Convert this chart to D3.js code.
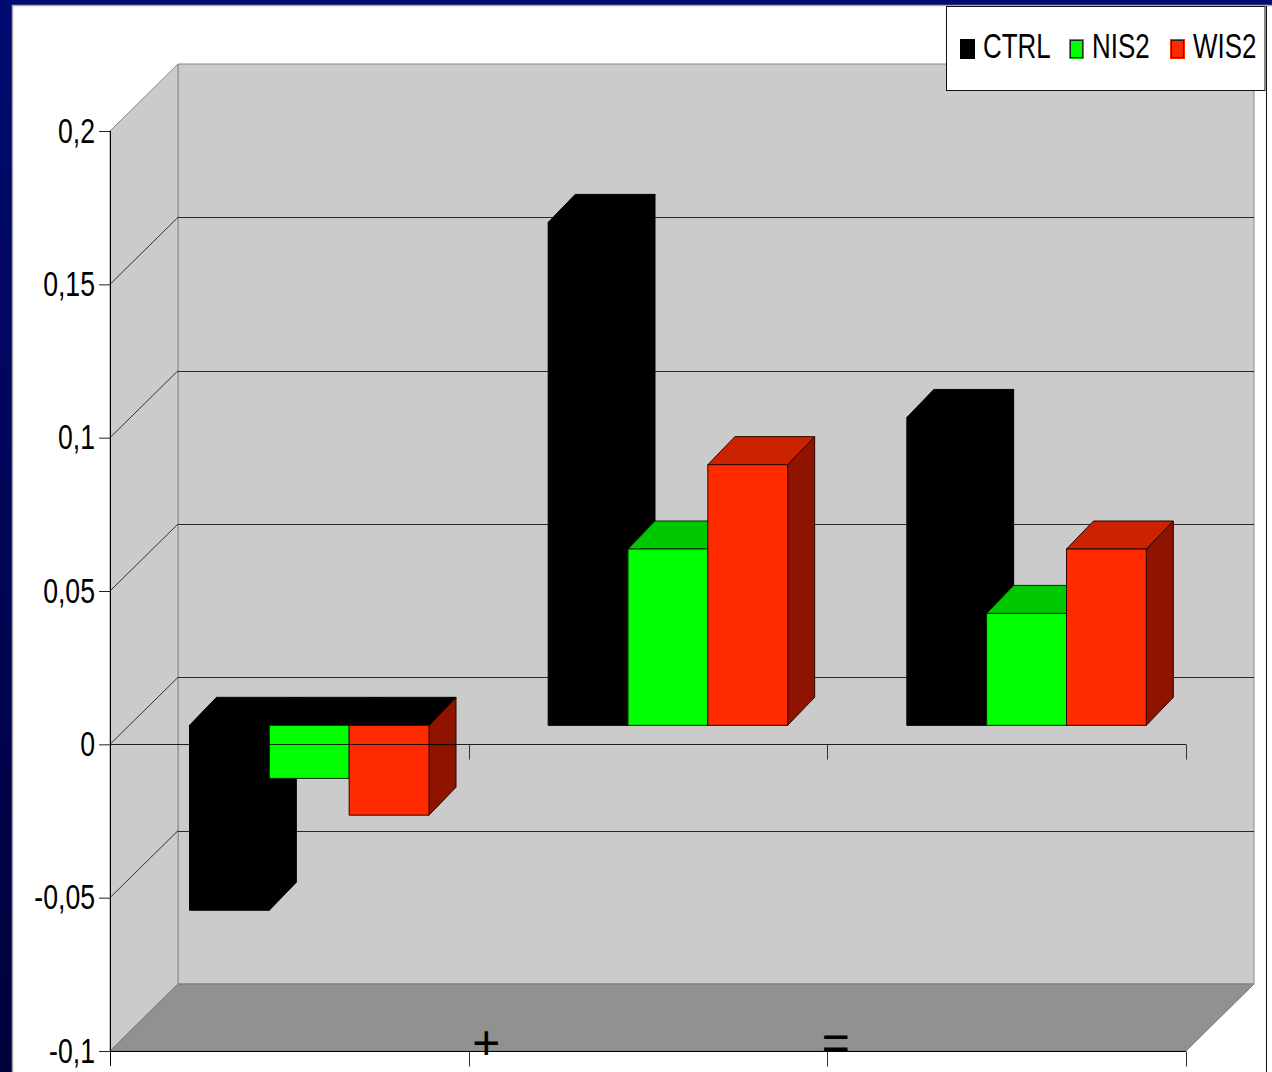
<!DOCTYPE html>
<html>
<head>
<meta charset="utf-8">
<script src="https://cdn.jsdelivr.net/npm/d3@7/dist/d3.min.js"></script>
<style>
html,body{margin:0;padding:0;background:#fff;overflow:hidden}
svg{display:block}
text{font-family:"Liberation Sans",Arial,sans-serif;fill:#000}
</style>
</head>
<body>
<svg id="c" width="1272" height="1072"></svg>
<script>
const categories = ["", "+", "="];
const seriesNames = ["CTRL", "NIS2", "WIS2"];
const ctrlValues = [-0.0603, 0.164, 0.1004];
const nis2Values = [-0.0173, 0.0575, 0.0365];
const wis2Values = [-0.0293, 0.085, 0.0575];
const yTickValues = [-0.1, -0.05, 0, 0.05, 0.1, 0.15, 0.2];
const seriesValues = [ctrlValues, nis2Values, wis2Values];

const palette = {
  CTRL: {front:"#000000", top:"#000000", side:"#000000", stroke:"#000000", swatchOuter:"#000000"},
  NIS2: {front:"#00ff00", top:"#00c800", side:"#00a000", stroke:"#0a2a0a", swatchOuter:"#00d000"},
  WIS2: {front:"#ff2a00", top:"#cc2200", side:"#8f1400", stroke:"#2a0500", swatchOuter:"#ff2a00"}
};

const svg = d3.select("#c");
const defs = svg.append("defs");
const grad = defs.append("linearGradient").attr("id","bg").attr("x1",0).attr("x2",0).attr("y1",0).attr("y2",1);
grad.append("stop").attr("offset",0).attr("stop-color","#000a70");
grad.append("stop").attr("offset",1).attr("stop-color","#00003c");

// Slide frame
svg.append("rect").attr("width",1272).attr("height",1072).attr("fill","url(#bg)");
svg.append("rect").attr("x",12.5).attr("y",5.5).attr("width",1300).attr("height",1100)
  .attr("fill","#fff").attr("stroke","#a8a8a8").attr("stroke-width",1.5);
svg.append("line").attr("x1",1266.5).attr("x2",1266.5).attr("y1",6).attr("y2",1072)
  .attr("stroke","#111").attr("stroke-width",1);

// Scales
const left = 110, right = 1186, depthX = 68, depthY = 67;
const y = d3.scaleLinear().domain([-0.1,0.2]).range([1051,131]);
const x0 = d3.scaleBand().domain(categories).range([left,right]);
const x1 = d3.scaleBand().domain(seriesNames).range([79.5,319]);
const barShiftY = -19, barDX = 27, barDY = -28;

// Walls
const g = svg.append("g");
const poly = (pts) => pts.map(p=>p.join(",")).join(" ");
g.append("polygon")
  .attr("points",poly([[left+depthX,y(0.2)-depthY],[right+depthX,y(0.2)-depthY],[right+depthX,y(-0.1)-depthY],[left+depthX,y(-0.1)-depthY]]))
  .attr("fill","#cbcbcb").attr("stroke","#8a8a8a");
g.append("polygon")
  .attr("points",poly([[left,y(0.2)],[left+depthX,y(0.2)-depthY],[left+depthX,y(-0.1)-depthY],[left,y(-0.1)]]))
  .attr("fill","#cbcbcb").attr("stroke","#8a8a8a");
g.append("polygon")
  .attr("points",poly([[left,y(-0.1)],[right,y(-0.1)],[right+depthX,y(-0.1)-depthY],[left+depthX,y(-0.1)-depthY]]))
  .attr("fill","#919191").attr("stroke","#7a7a7a");

// Gridlines
const inner = yTickValues.filter(v=>v>-0.1 && v<0.2);
g.selectAll(".gb").data(inner).join("line")
  .attr("x1",left+depthX).attr("x2",right+depthX)
  .attr("y1",d=>Math.round(y(d)-depthY)+0.5).attr("y2",d=>Math.round(y(d)-depthY)+0.5)
  .attr("stroke","#2a2a2a").attr("stroke-width",1);
g.selectAll(".gd").data(inner).join("line")
  .attr("x1",left).attr("x2",left+depthX)
  .attr("y1",d=>y(d)).attr("y2",d=>y(d)-depthY)
  .attr("stroke","#333").attr("stroke-width",1);

// Bars
const base = y(0) + barShiftY;
const barG = svg.append("g");
categories.forEach((cat,ci)=>{
  seriesNames.forEach((name,si)=>{
    const v = seriesValues[si][ci];
    const c = palette[name];
    const xa = x0(cat)+x1(name), xb = xa + x1.bandwidth();
    const yv = y(v)+barShiftY;
    const yTop = Math.min(base,yv), yBot = Math.max(base,yv);
    const s = barG.append("g").attr("stroke",c.stroke).attr("stroke-width",1).attr("stroke-linejoin","round");
    s.append("polygon")
      .attr("points",poly([[xb,yTop],[xb+barDX,yTop+barDY],[xb+barDX,yBot+barDY],[xb,yBot]]))
      .attr("fill",c.side);
    s.append("polygon")
      .attr("points",poly([[xa,yTop],[xb,yTop],[xb+barDX,yTop+barDY],[xa+barDX,yTop+barDY]]))
      .attr("fill",v<0?"#000000":c.top).attr("stroke",v<0?"#000000":c.stroke);
    s.append("rect").attr("x",xa).attr("y",yTop).attr("width",xb-xa).attr("height",yBot-yTop)
      .attr("fill",c.front);
  });
});

// Axes
const sx = 0.74;
const axisY = svg.append("g").attr("transform",`translate(${left},0)`)
  .call(d3.axisLeft(y).tickValues(yTickValues).tickSize(11).tickPadding(0)
    .tickFormat(d=>String(d).replace(".",",")));
axisY.select(".domain").remove();
axisY.selectAll(".tick line").attr("stroke","#222");
axisY.selectAll(".tick text").attr("x",null).attr("dy",null)
  .attr("text-anchor","end").attr("font-size",36).attr("font-family",'"Liberation Sans",Arial,sans-serif')
  .attr("fill","#000")
  .attr("transform",`translate(-15,11) scale(${sx},1)`);
svg.append("line").attr("x1",left+0.5).attr("x2",left+0.5).attr("y1",y(0.2)).attr("y2",y(-0.1)+15).attr("stroke","#000");

const tickXs = categories.map(c=>x0(c)).concat([right]).slice(1);
// zero line with ticks
const zero = Math.round(y(0))+0.5, bottom = Math.round(y(-0.1))+0.5;
svg.append("line").attr("x1",left).attr("x2",right).attr("y1",zero).attr("y2",zero)
  .attr("stroke","#000").attr("stroke-width",1).attr("opacity",0.85);
svg.selectAll(".t0").data(tickXs).join("line")
  .attr("x1",d=>Math.round(d)+0.5).attr("x2",d=>Math.round(d)+0.5).attr("y1",zero).attr("y2",zero+15)
  .attr("stroke","#333");
svg.selectAll(".t1").data(tickXs).join("line")
  .attr("x1",d=>Math.round(d)+0.5).attr("x2",d=>Math.round(d)+0.5).attr("y1",bottom).attr("y2",bottom+15)
  .attr("stroke","#333");

// Category labels
const catDX = {"+":17.5, "=":8.5};
svg.selectAll(".cat").data(categories.filter(c=>c)).join("text")
  .attr("x",d=>x0(d)+catDX[d]).attr("y",1059)
  .attr("text-anchor","middle").attr("font-size",48)
  .text(d=>d);
svg.append("line").attr("x1",left).attr("x2",right).attr("y1",bottom).attr("y2",bottom).attr("stroke","#000");

// Legend
const legend = svg.append("g");
legend.append("rect").attr("x",946.5).attr("y",6.5).attr("width",318.5).attr("height",84)
  .attr("fill","#fff").attr("stroke","#111");
const swatchX = d3.scaleOrdinal().domain(seriesNames).range([960,1069,1170]);
const textX = d3.scaleOrdinal().domain(seriesNames).range([983,1092,1193]);
seriesNames.forEach(name=>{
  const c = palette[name];
  legend.append("rect").attr("x",swatchX(name)+0.5).attr("y",39.5).attr("width",14).attr("height",19)
    .attr("fill",c.front).attr("stroke",c.swatchOuter);
  if(name!=="CTRL"){
    legend.append("rect").attr("x",swatchX(name)+1.5).attr("y",40.5).attr("width",12).attr("height",17)
      .attr("fill","none").attr("stroke","#222");
  }
  legend.append("text").attr("transform",`translate(${textX(name)},58) scale(0.72,1)`)
    .attr("font-size",36).text(name);
});
</script>
</body>
</html>
